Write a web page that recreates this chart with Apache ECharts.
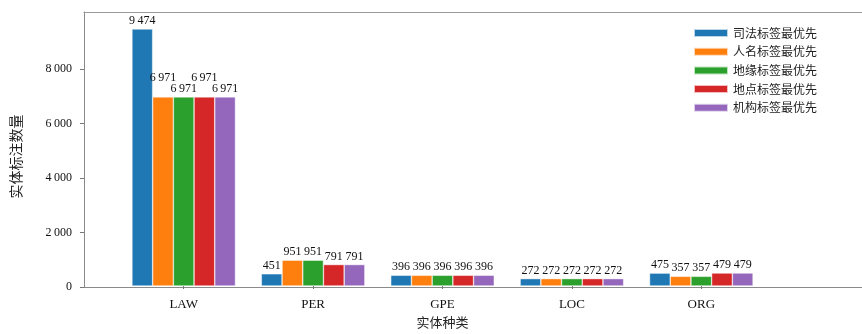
<!DOCTYPE html>
<html>
<head>
<meta charset="utf-8">
<script src="https://cdn.jsdelivr.net/npm/echarts@6/dist/echarts.min.js"></script>
<style>
  html, body { margin: 0; padding: 0; background: #fff; }
  #chart { width: 862px; height: 334px; }
</style>
</head>
<body>
<div id="chart"></div>
<script>
// Entity types on the x axis
const categories = ['LAW', 'PER', 'GPE', 'LOC', 'ORG'];

// Annotated entity counts under each label-priority strategy
const seriesNames = ['司法标签最优先', '人名标签最优先', '地缘标签最优先', '地点标签最优先', '机构标签最优先'];
const judicialFirst = [9474, 451, 396, 272, 475];
const personFirst   = [6971, 951, 396, 272, 357];
const geoPolFirst   = [6971, 951, 396, 272, 357];
const locationFirst = [6971, 791, 396, 272, 479];
const orgFirst      = [6971, 791, 396, 272, 479];

// Y axis tick values
const yTicks = [0, 2000, 4000, 6000, 8000];
const yMax = 10100;

const colors = ['#1f77b4', '#ff7f0e', '#2ca02c', '#d62728', '#9467bd'];
const serifFont = '"Liberation Serif", "DejaVu Serif", serif';
const cjkFont = '"Noto Sans CJK SC", "Liberation Serif", sans-serif';

// thousands separated by a thin space
const fmt = v => String(v).replace(/\B(?=(\d{3})+(?!\d))/g, '\u2009');

const values = [judicialFirst, personFirst, geoPolFirst, locationFirst, orgFirst];

const series = values.map((vals, si) => ({
  name: seriesNames[si],
  type: 'bar',
  xAxisIndex: 1,
  yAxisIndex: 1,
  barGap: 0,
  barCategoryGap: '20%',
  itemStyle: { color: colors[si], borderColor: 'rgba(255,255,255,0.7)', borderWidth: 0.6 },
  label: {
    show: true,
    position: 'top',
    distance: 2,
    fontFamily: serifFont,
    fontSize: 12,
    color: '#111',
    formatter: p => fmt(p.value)
  },
  data: vals.map((v, ci) => {
    // equal neighbouring labels in the first group are staggered so they stay readable
    if (ci === 0 && (si === 1 || si === 3)) {
      return { value: v, label: { offset: [0, -11] } };
    }
    return v;
  })
}));

const frameLine = { show: true, lineStyle: { color: '#8a8a8a', width: 1 } };

const chart = echarts.init(document.getElementById('chart'), null, { renderer: 'canvas' });
chart.setOption({
  animation: false,
  backgroundColor: '#fff',
  color: colors,
  legend: {
    orient: 'vertical',
    left: 688,
    top: 22,
    itemWidth: 34,
    itemHeight: 8,
    itemGap: 6.7,
    icon: 'rect',
    textStyle: { fontFamily: cjkFont, fontSize: 12, color: '#222' },
    data: seriesNames
  },
  grid: [
    // frame grid carrying the axis lines and y ticks; open on the right side
    { left: 84, top: 12, right: 0, bottom: 47 },
    // grid holding the grouped bars
    { left: 119, top: 12, right: 96, bottom: 47 }
  ],
  xAxis: [
    {
      gridIndex: 0, type: 'value', min: 0, max: 1, position: 'bottom',
      axisLine: frameLine,
      axisTick: { show: false }, axisLabel: { show: false }, splitLine: { show: false }
    },
    {
      gridIndex: 1, type: 'category', data: categories,
      axisLine: { show: false },
      axisTick: { show: true, alignWithLabel: true, length: 3, lineStyle: { color: '#777' } },
      axisLabel: { margin: 12, fontFamily: serifFont, fontSize: 13, color: '#111' },
      name: '实体种类',
      nameLocation: 'middle',
      nameGap: 30,
      nameTextStyle: { fontFamily: cjkFont, fontSize: 13, color: '#222' }
    },
    {
      gridIndex: 0, type: 'value', min: 0, max: 1, position: 'top',
      axisLine: { show: true, lineStyle: { color: '#9a9a9a', width: 1 } },
      axisTick: { show: false }, axisLabel: { show: false }, splitLine: { show: false }
    }
  ],
  yAxis: [
    {
      gridIndex: 0, type: 'value', min: 0, max: yMax,
      axisLine: frameLine,
      axisTick: { show: true, length: 4, customValues: yTicks, lineStyle: { color: '#777' } },
      axisLabel: { customValues: yTicks, margin: 12, fontFamily: serifFont, fontSize: 12, color: '#111', formatter: v => fmt(v) },
      splitLine: { show: false },
      name: '实体标注数量',
      nameLocation: 'middle',
      nameRotate: 90,
      nameGap: 61,
      nameTextStyle: { fontFamily: cjkFont, fontSize: 14, color: '#222', padding: [0, 14, 0, 0] }
    },
    {
      gridIndex: 1, type: 'value', min: 0, max: yMax, show: false
    }
  ],
  series: series
});
</script>
</body>
</html>
